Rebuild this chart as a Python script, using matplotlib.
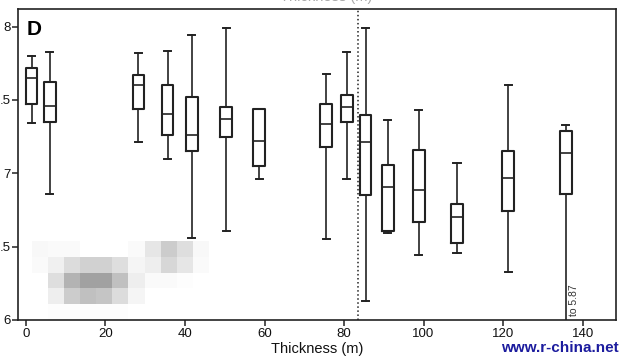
import matplotlib.pyplot as plt
import numpy as np

plt.rcParams['font.family'] = ['Liberation Sans', 'DejaVu Sans']

# thickness positions (m) and box statistics
pos = [1.4, 6.0, 28.3, 35.6, 41.7, 50.4, 58.7, 75.5, 80.7, 85.4, 91.0, 98.8, 108.4, 121.3, 135.8]
whislo = [7.34, 6.86, 7.21, 7.10, 6.56, 6.61, 6.96, 6.55, 6.96, 6.13, 6.59, 6.44, 6.46, 6.33, 5.87]
q1 = [7.47, 7.35, 7.44, 7.26, 7.15, 7.25, 7.05, 7.18, 7.35, 6.85, 6.61, 6.67, 6.525, 6.745, 6.86]
med = [7.65, 7.46, 7.60, 7.405, 7.26, 7.37, 7.22, 7.335, 7.45, 7.21, 6.91, 6.885, 6.70, 6.97, 7.14]
q3 = [7.72, 7.62, 7.67, 7.60, 7.52, 7.455, 7.44, 7.47, 7.535, 7.40, 7.055, 7.16, 6.79, 7.15, 7.285]
whishi = [7.80, 7.83, 7.82, 7.835, 7.944, 7.99, 7.44, 7.68, 7.83, 7.99, 7.36, 7.43, 7.07, 7.60, 7.33]

boundary = 83.6
xticks = [0, 20, 40, 60, 80, 100, 120, 140]
yticks = [6, 6.5, 7, 7.5, 8]
ylabels = ['6', '.5', '7', '.5', '8']

# pixelated patch in the lower left of the picture
mosaic = np.array([
    [0.97, 0.98, 0.98, 1.00, 1.00, 1.00, 0.98, 0.90, 0.80, 0.87, 0.97],
    [0.98, 0.94, 0.86, 0.82, 0.82, 0.87, 0.96, 0.93, 0.84, 0.90, 0.98],
    [1.00, 0.87, 0.70, 0.63, 0.63, 0.75, 0.93, 0.98, 0.98, 0.99, 1.00],
    [1.00, 0.93, 0.80, 0.75, 0.77, 0.86, 0.96, 1.00, 1.00, 1.00, 1.00],
    [1.00, 0.99, 0.99, 0.99, 0.99, 0.99, 1.00, 1.00, 1.00, 1.00, 1.00],
])

fig = plt.figure(figsize=(6.24, 3.57), dpi=100)
ax = fig.add_axes([18/624, 1-320/357, 598/624, 311/357])

stats = []
for i in range(len(pos)):
    stats.append(dict(whislo=whislo[i], q1=q1[i], med=med[i], q3=q3[i], whishi=whishi[i], fliers=[]))

ink = '#222222'
ax.bxp(stats, positions=pos, widths=3.0, capwidths=1.8, showfliers=False,
       boxprops=dict(color=ink, linewidth=1.5),
       medianprops=dict(color=ink, linewidth=1.2),
       whiskerprops=dict(color=ink, linewidth=1.2),
       capprops=dict(color=ink, linewidth=1.4), manage_ticks=False)

ax.axvline(boundary, color=ink, linestyle=':', linewidth=1.1)

ax.imshow(mosaic, cmap='gray', vmin=0, vmax=1, extent=(1.5, 45.8, 6.0, 6.532),
          aspect='auto', interpolation='nearest', zorder=0)

ax.set_xlim(-2, 148.4)
ax.set_ylim(6, 8.12)
ax.set_xticks(xticks)
ax.set_yticks(yticks)
ax.set_yticklabels(ylabels)
ax.tick_params(axis='both', labelsize=9.5, length=4, width=1.1, color=ink, labelcolor='#111111')
ax.tick_params(axis='y', pad=1)
ax.tick_params(axis='x', pad=2)
for s in ax.spines.values():
    s.set_linewidth(1.2)
    s.set_color(ink)

ax.set_xlabel('Thickness (m)', fontsize=10.5, labelpad=1, color='#111111')
ax.text(0.015, 0.965, 'D', transform=ax.transAxes, fontsize=15, fontweight='bold', va='top', ha='left')
ax.text(137.9, 6.03, 'to 5.87', rotation=90, fontsize=7.5, ha='center', va='bottom', color='#333333')

# top title cut off by the crop of the original figure
fig.text(326/624, 1-1.5/357, 'Thickness (m)', fontsize=10.5, ha='center', va='baseline', color='#aaaaaa')
fig.text(619/624, 1-352/357, 'www.r-china.net', fontsize=11, fontweight='bold', ha='right',
         va='baseline', color='#1c1c9e')

fig.savefig('out.png', dpi=100)
